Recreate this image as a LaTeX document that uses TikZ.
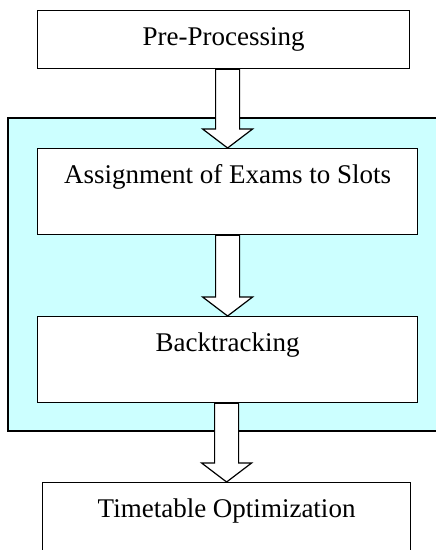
\documentclass[tikz,border=0pt]{standalone}
\usepackage{fontspec}
\setmainfont{Liberation Serif}
\usepackage{tikz}
\usetikzlibrary{calc}

\definecolor{paleCyan}{RGB}{204,255,255}

\newcommand{\blockarrow}[2]{%
	\filldraw[fill=white, line width=1.2pt] let \p1 = (#1.south), \p2 = (#2.north) in
		(\x2-12pt,\y1) -- (\x2+12pt,\y1) -- (\x2+12pt,\y2+19pt) -- (\x2+25pt,\y2+19pt)
		-- (\x2,\y2) -- (\x2-25pt,\y2+19pt) -- (\x2-12pt,\y2+19pt) -- cycle;
}

\begin{document}
\begin{tikzpicture}[x = 1pt, y = -1pt,
		stage/.style = {draw, fill=white, line width=1.2pt, anchor=north west,
			font=\fontsize{27}{32}\selectfont, text height=19pt, inner ysep=16pt}]
	\useasboundingbox (0,0) rectangle (436,550);
	\clip (0,0) rectangle (436,550);

	\begin{scope}
		\draw[fill=paleCyan, line width=1.2pt] (8,118) rectangle (450,431);
	\end{scope}

	\begin{scope}
		\node[stage, minimum width=372pt, text depth=7pt] (pre) at (37,10) {Pre-Processing};
		\node[stage, minimum width=380pt, text depth=35pt] (asg) at (37,148) {Assignment of Exams to Slots};
		\node[stage, minimum width=380pt, text depth=35pt] (back) at (37,316) {Backtracking};
		\node[stage, minimum width=368pt, text depth=45pt] (opt) at (42,482) {Timetable Optimization};
	\end{scope}

	\foreach \a/\b in {pre/asg, asg/back, back/opt}
	{
		\blockarrow{\a}{\b}
	}
\end{tikzpicture}
\end{document}
